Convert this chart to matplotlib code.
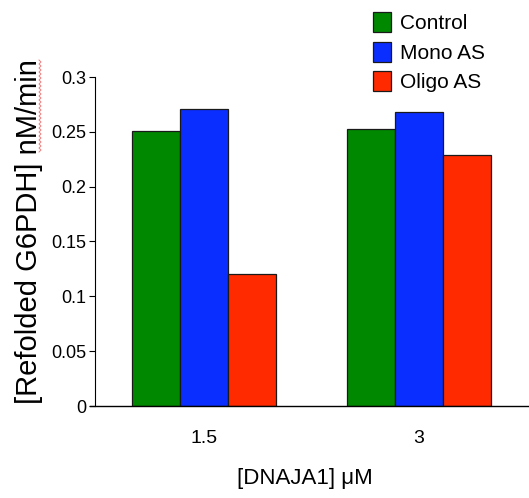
import matplotlib.pyplot as plt
import numpy as np
from matplotlib.lines import Line2D

plt.rcParams['font.family'] = ['Liberation Sans', 'DejaVu Sans']

doses = ['1.5', '3']
series = ['Control', 'Mono AS', 'Oligo AS']
control = [0.251, 0.253]
mono_as = [0.271, 0.268]
oligo_as = [0.120, 0.2285]
colors = ['#008800', '#0a2eff', '#ff2a00']

fig = plt.figure(figsize=(5.29, 4.98), dpi=100)
ax = fig.add_axes([90/529, 92/498, 439/529, 329/498])

x = np.arange(len(doses))
w = 0.224
for i, (name, vals) in enumerate(zip(series, [control, mono_as, oligo_as])):
    ax.bar(x + (i - 1) * w, vals, width=w, color=colors[i], edgecolor='#1a1a1a',
           linewidth=0.9, label=name)

ax.set_xlim(-0.53, 1.512)
ax.set_ylim(0, 0.3)
ax.set_yticks([0, 0.05, 0.1, 0.15, 0.2, 0.25, 0.3])
ax.set_yticklabels(['0', '0.05', '0.1', '0.15', '0.2', '0.25', '0.3'])
ax.set_xticks(x)
ax.set_xticklabels(doses)

for s in ['top', 'right']:
    ax.spines[s].set_visible(False)
ax.spines['left'].set_position(('outward', -3.6))
ax.spines['left'].set_linewidth(0.8)
ax.spines['bottom'].set_linewidth(1.0)
ax.tick_params(axis='y', length=4, width=0.8, labelsize=13, pad=2)
ax.tick_params(axis='x', length=0, labelsize=14, pad=17)

ax.set_ylabel('[Refolded G6PDH] nM/min', fontsize=21)
ax.yaxis.set_label_coords(-47 / 439, (406 - 232) / 329)
ax.set_xlabel('[DNAJA1] \u03bcM', fontsize=16)
ax.xaxis.set_label_coords((305 - 90) / 439, -62 / 329)

ax.legend(loc='upper left', bbox_to_anchor=(365/529, 1 - 4/498), bbox_transform=fig.transFigure,
          frameon=False, fontsize=15, handlelength=0.85, handleheight=1.1,
          handletextpad=0.45, labelspacing=0.4, borderaxespad=0)

# spell-check squiggle under "nM/min"
sy = np.arange(60, 154, 2.0)
sx = np.where(np.arange(len(sy)) % 2 == 0, 39.0, 41.0)
fig.add_artist(Line2D(sx / 529, 1 - sy / 498, transform=fig.transFigure,
                      color='#f08080', linewidth=0.7))

fig.savefig('out.png', dpi=100)
